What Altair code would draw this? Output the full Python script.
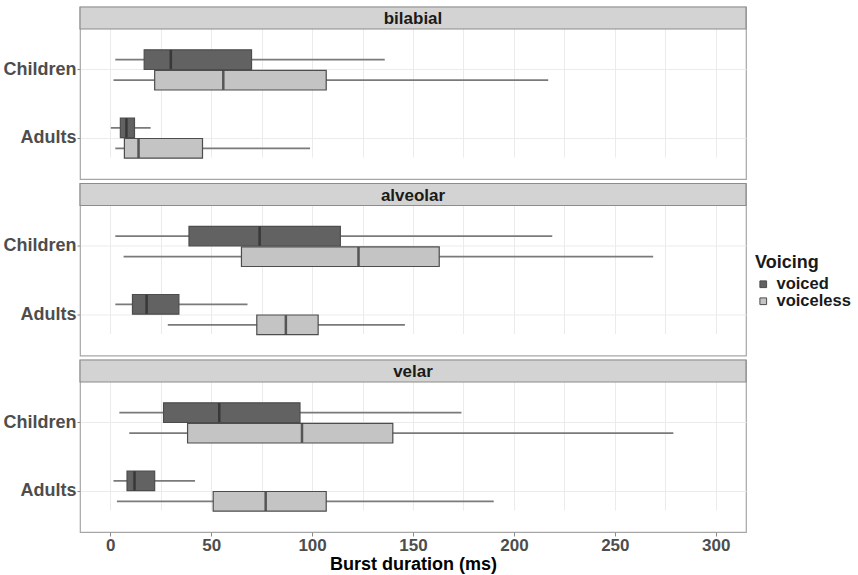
import altair as alt
import pandas as pd

places = ["bilabial", "alveolar", "velar"]
groups = ["Children", "Adults"]
voicings = ["voiced", "voiceless"]

# order: place -> group -> voicing
lower = [2.5, 1.6, 0.3, 2.5, 2.5, 6.6, 2.5, 28.5, 4.5, 9.4, 1.6, 3.3]
q1 = [16.8, 22, 5, 7, 39, 65, 11, 72.6, 26.4, 38.3, 8.3, 51]
median = [30, 56, 8, 14, 74, 123, 18, 87, 54, 95, 12, 77]
q3 = [70, 107, 12, 45.7, 114, 163, 34, 103, 94, 140, 22, 107]
upper = [136, 217, 20, 99, 219, 269, 68, 146, 174, 279, 42, 190]

x_ticks = [0, 25, 50, 75, 100, 125, 150, 175, 200, 225, 250, 275, 300]

rows = []
i = 0
for p in places:
    for g in groups:
        for v in voicings:
            rows.append(dict(place=p, group=g, voicing=v, lower=lower[i], q1=q1[i],
                             median=median[i], q3=q3[i], upper=upper[i]))
            i += 1
df = pd.DataFrame(rows)

W = 666
H_BODY = 150
H_STRIP = 22
H = H_BODY + H_STRIP
FONT = "Liberation Sans"

xscale = alt.Scale(domain=[-15, 315], nice=False, zero=False)
yscale = alt.Scale(domain=groups, range=[H_STRIP, H], paddingInner=0.41, paddingOuter=0.305)
yoff_scale = alt.Scale(domain=voicings, paddingInner=0.04, paddingOuter=0)

legend = alt.Legend(title="Voicing", orient="none", legendX=675, legendY=247,
                    symbolType="square", symbolSize=45, symbolStrokeColor="#4d4d4d",
                    symbolStrokeWidth=1, titleFontSize=18, titleFont=FONT,
                    titleFontWeight="bold", titleColor="#1a1a1a", labelFontSize=16.5,
                    labelFont=FONT, labelFontWeight="bold", labelColor="#1a1a1a",
                    rowPadding=0, titlePadding=4, labelOffset=5, labelLimit=200)


def panel(p, last):
    if last:
        xaxis = alt.Axis(values=x_ticks,
                         labelExpr="datum.value % 50 == 0 ? datum.label : ''",
                         tickOpacity={"condition": {"test": "datum.value % 50 != 0", "value": 0}, "value": 1},
                         title="Burst duration (ms)",
                         domain=False, grid=True,
                         gridColor="#ebebeb", gridWidth=1,
                         labelFontSize=17, labelFontWeight="bold", labelColor="#4d4d4d",
                         labelFont=FONT, tickColor="#8a8a8a", tickSize=4, labelPadding=1,
                         titleFontSize=18, titleFontWeight="bold", titleColor="#000000",
                         titleFont=FONT, titlePadding=2)
    else:
        xaxis = alt.Axis(values=x_ticks, title=None, labels=False, ticks=False,
                         domain=False, grid=True, gridColor="#ebebeb", gridWidth=1)
    yaxis = alt.Axis(title=None, domain=False, grid=True, gridColor="#ebebeb",
                     bandPosition=0.5, labelFontSize=18, labelFontWeight="bold",
                     labelColor="#4d4d4d", labelFont=FONT, tickColor="#8a8a8a",
                     tickSize=3, labelPadding=1)
    base = alt.Chart(df).transform_filter(alt.datum.place == p)
    y = alt.Y("group:N", scale=yscale, axis=yaxis)
    yo = alt.YOffset("voicing:N", scale=yoff_scale)
    whisker = base.mark_rule(color="#7a7a7a", strokeWidth=1.6).encode(
        x=alt.X("lower:Q", scale=xscale, axis=xaxis), x2="upper:Q", y=y, yOffset=yo)
    box = base.mark_bar(stroke="#4d4d4d", strokeWidth=1.2).encode(
        x=alt.X("q1:Q", scale=xscale, axis=xaxis), x2="q3:Q", y=y, yOffset=yo,
        color=alt.Color("voicing:N",
                        scale=alt.Scale(domain=voicings, range=["#626262", "#c4c4c4"]),
                        legend=legend))
    med = base.mark_tick(color="#262626", thickness=2.5, size=19).encode(
        x=alt.X("median:Q", scale=xscale, axis=xaxis), y=y, yOffset=yo)
    sdf = pd.DataFrame({"place": [p]})
    strip_rect = alt.Chart(sdf).mark_rect(fill="#d3d3d3", stroke="#8c8c8c",
                                          strokeWidth=1.2).encode(
        x=alt.value(0), x2=alt.value(W), y=alt.value(0), y2=alt.value(H_STRIP))
    strip_text = alt.Chart(sdf).mark_text(
        font=FONT, fontSize=17, fontWeight="bold", color="#1a1a1a").encode(
        text="place:N", x=alt.value(W / 2), y=alt.value(H_STRIP / 2 + 1))
    return alt.layer(whisker, box, med, strip_rect, strip_text).properties(
        width=W, height=H,
        view=alt.ViewBackground(stroke="#a6a6a6", strokeWidth=1.2, fill="white"))


panels = [panel(p, k == len(places) - 1) for k, p in enumerate(places)]

chart = alt.vconcat(*panels, spacing=1.5).resolve_scale(x="shared").properties(
    padding={"left": 2, "top": 5, "right": 0, "bottom": 0},
    background="white")

chart.save("out.html", embed_options={"renderer": "svg", "actions": False})
